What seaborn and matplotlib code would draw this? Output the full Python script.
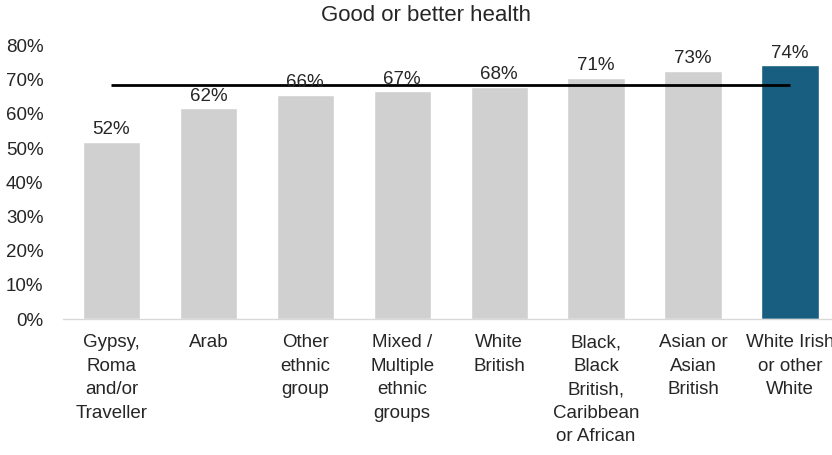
import matplotlib
matplotlib.use("Agg")
import matplotlib.pyplot as plt
import seaborn as sns
import pandas as pd
import numpy as np

categories = [
    "Gypsy,\nRoma\nand/or\nTraveller",
    "Arab",
    "Other\nethnic\ngroup",
    "Mixed /\nMultiple\nethnic\ngroups",
    "White\nBritish",
    "Black,\nBlack\nBritish,\nCaribbean\nor African",
    "Asian or\nAsian\nBritish",
    "White Irish\nor other\nWhite",
]
values = [0.519, 0.616, 0.656, 0.666, 0.678, 0.706, 0.726, 0.742]
average = 0.684
bar_colors = ["#d0d0d0"] * 7 + ["#175e80"]
title = "Good or better health"
yticks = [0, 0.1, 0.2, 0.3, 0.4, 0.5, 0.6, 0.7, 0.8]

sns.set_theme(style="white")
plt.rcParams["font.family"] = ["Liberation Sans", "DejaVu Sans"]

df = pd.DataFrame({"cat": categories, "val": values})

fig = plt.figure(figsize=(8.32, 4.55), dpi=100)
ax = fig.add_axes([0.0757, 0.2989, 0.932, 0.6011])

sns.barplot(data=df, x="cat", y="val", hue="cat", palette=bar_colors,
            legend=False, width=0.59, ax=ax, saturation=1)

ax.plot([0, len(categories) - 1], [average, average], color="black", lw=2,
        solid_capstyle="butt")

for i, v in enumerate(values):
    ax.text(i, v + 0.011, f"{round(v*100):.0f}%", ha="center", va="bottom",
            fontsize=13.5, color="#262626")

ax.set_ylim(0, 0.8)
ax.set_xlim(-0.5, len(categories) - 0.5)
ax.set_yticks(yticks)
ax.set_yticklabels([f"{int(round(t*100))}%" for t in yticks], fontsize=13.5, color="#262626")
ax.set_xticks(range(len(categories)))
ax.set_xticklabels(categories, fontsize=13.5, color="#262626", linespacing=1.5, va="top")
ax.tick_params(axis="x", length=0, pad=11)
ax.tick_params(axis="y", length=0, pad=14)
ax.set_xlabel("")
ax.set_ylabel("")
for s in ["top", "right", "left"]:
    ax.spines[s].set_visible(False)
ax.spines["bottom"].set_color("#d9d9d9")
ax.spines["bottom"].set_linewidth(1)

fig.text(0.512, 0.967, title, ha="center", va="center", fontsize=16, color="#262626")

fig.savefig("out.png", dpi=100)
